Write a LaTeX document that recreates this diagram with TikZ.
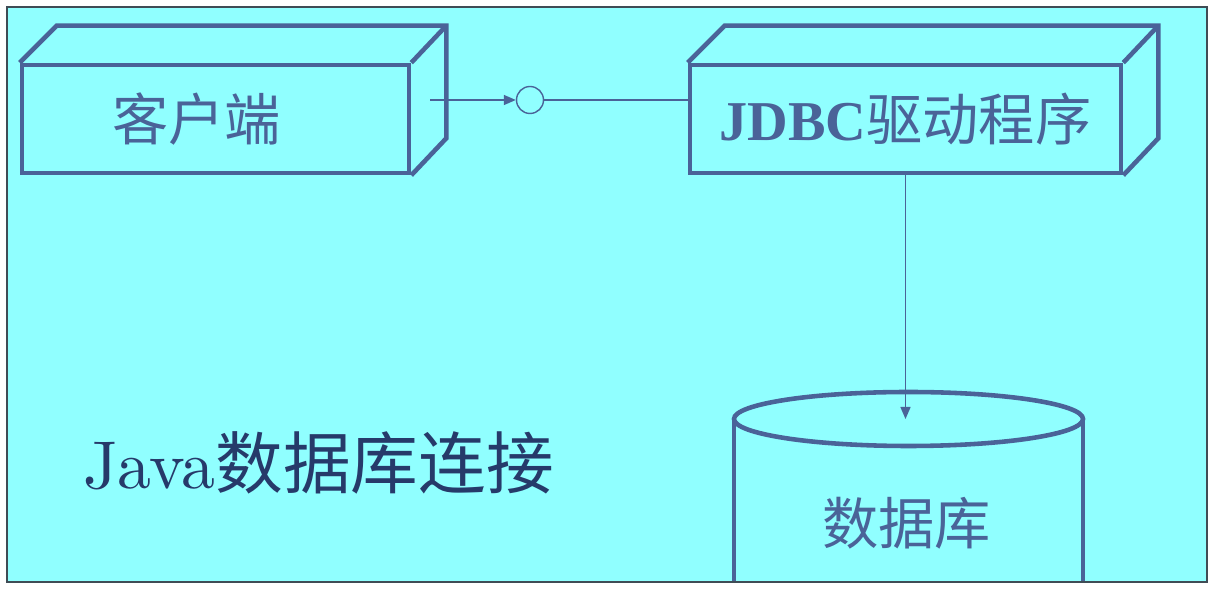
\documentclass[tikz,border=0pt]{standalone}
\usepackage{fontspec}
\newfontfamily\cjk{Noto Sans CJK SC}
\newfontfamily\tnr{Liberation Serif}
\newfontfamily\lmten{lmroman10-regular.otf}
\usetikzlibrary{arrows.meta,positioning}
\definecolor{bgcyan}{HTML}{90FFFF}
\definecolor{umlblue}{HTML}{4A6398}
\definecolor{titleblue}{HTML}{263A6A}
\definecolor{framegray}{HTML}{3F4C55}

\begin{document}
\begin{tikzpicture}[
  nodebox/.style={draw=umlblue, line width=2.6pt, minimum height=2.16cm, text=umlblue, font=\fontsize{32}{36}\selectfont},
  boxedge/.style={draw=umlblue, line width=2.6pt},
  wire/.style={draw=umlblue, line width=0.8pt},
  tip/.style={-{Triangle[length=0.24cm,width=0.2cm]}}
]
\useasboundingbox (0,0) rectangle (24.56,12.04);
\fill[bgcyan] (0.14,0.4) rectangle (24.14,11.9);

% the two 3d boxes
\node[nodebox, minimum width=7.74cm] (client) at (4.31,9.66) {\cjk 客户端\hspace*{0.76cm}};
\draw[boxedge] (client.north west) -- ++(0.74,0.74) -- ([shift={(0.7,0.74)}]client.north east) -- ([shift={(0.7,0.74)}]client.south east) -- (client.south east);
\draw[boxedge] (client.north east) -- ++(0.7,0.74);

\node[nodebox, minimum width=8.62cm] (jdbc) at (18.11,9.66) {{\tnr\bfseries JDBC}\cjk 驱动程序};
\draw[boxedge] (jdbc.north west) -- ++(0.74,0.74) -- ([shift={(0.7,0.74)}]jdbc.north east) -- ([shift={(0.7,0.74)}]jdbc.south east) -- (jdbc.south east);
\draw[boxedge] (jdbc.north east) -- ++(0.7,0.74);

% interface
\node[draw=umlblue, circle, minimum size=0.54cm, inner sep=0pt, line width=0.8pt] (iface) at (10.6,10.04) {};
\coordinate (cstart) at (8.6,10.04);
\draw[wire, tip] (cstart) -- (iface);
\draw[wire] (iface) -- (iface -| jdbc.west);

% database
\coordinate (dbtop) at (18.17,3.66);
\draw[boxedge] (dbtop) ellipse [x radius=3.49, y radius=0.54];
\draw[boxedge] ([xshift=-3.49cm]dbtop) -- ++(0,-3.26);
\draw[boxedge] ([xshift=3.49cm]dbtop) -- ++(0,-3.26);
\node[text=umlblue, font=\fontsize{32}{36}\selectfont] (db) at (18.13,1.58) {\cjk 数据库};
\draw[wire, tip] (jdbc.south) -- (jdbc.south |- dbtop);

\node[anchor=west, text=titleblue, font=\fontsize{38.5}{42}\selectfont] (title) at (1.54,2.78) {\lmten Java\cjk 数据库连接};

\draw[framegray, line width=1.2pt] (0.14,0.4) rectangle (24.14,11.9);
\end{tikzpicture}
\end{document}
